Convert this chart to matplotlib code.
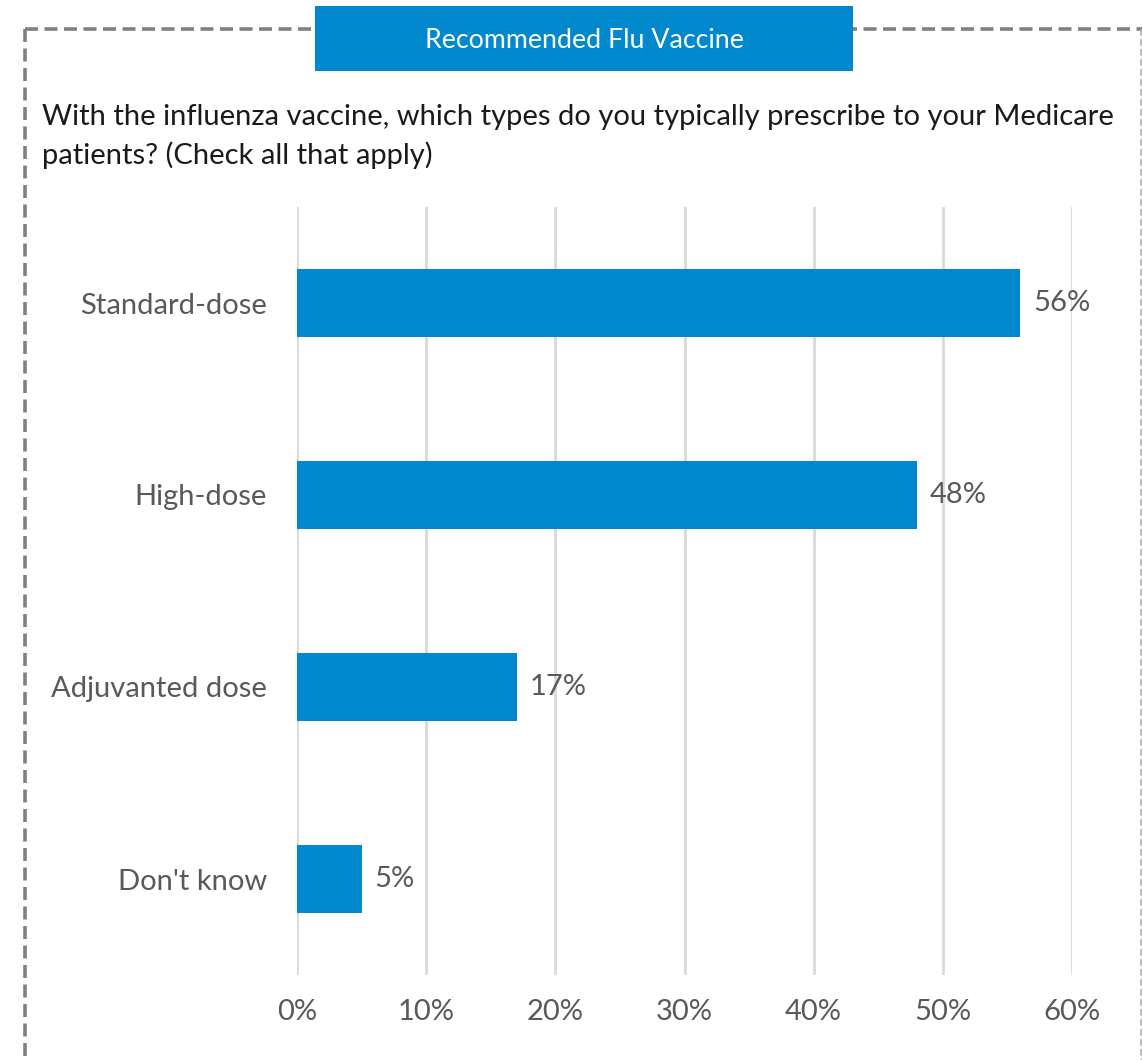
import matplotlib
matplotlib.use("Agg")
import matplotlib.pyplot as plt
from matplotlib.patches import Rectangle
from matplotlib.lines import Line2D

categories = ["Standard-dose", "High-dose", "Adjuvanted dose", "Don't know"]
values = [56, 48, 17, 5]
tick_values = [0, 10, 20, 30, 40, 50, 60]
tick_labels = ["0%", "10%", "20%", "30%", "40%", "50%", "60%"]

header = "Recommended Flu Vaccine"
question = ("With the influenza vaccine, which types do you typically prescribe to your Medicare\n"
            "patients? (Check all that apply)")

BLUE = "#0288CC"
GREY_TXT = "#595959"
FONT = ["Lato", "DejaVu Sans"]

W, H = 1143, 1060
fig = plt.figure(figsize=(W / 100, H / 100), dpi=100)
fig.patch.set_facecolor("white")

def fx(px):
    return px / W

def fy(py):
    return 1 - py / H

# dashed frame around the panel
dash = dict(color="#808080", linewidth=2.6, linestyle=(0, (3.6, 1.8)), transform=fig.transFigure)
fig.add_artist(Line2D([fx(25), fx(25)], [fy(29), fy(1062)], **dash))
fig.add_artist(Line2D([fx(25), fx(1142)], [fy(29), fy(29)], **dash))
fig.add_artist(Line2D([fx(1141), fx(1141)], [fy(29), fy(1062)], color="#B0B0B0",
                      linewidth=1.2, linestyle=(0, (4, 2)), transform=fig.transFigure))

# header banner
fig.add_artist(Rectangle((fx(315), fy(71)), fx(853) - fx(315), fy(6) - fy(71),
                         transform=fig.transFigure, facecolor=BLUE, edgecolor="none", zorder=3))
fig.text(fx(584), fy(40), header, color="white", fontsize=19.3, family=FONT,
         ha="center", va="center", zorder=4)

fig.text(fx(42), fy(104), question, color="#1a1a1a", fontsize=21, family=FONT,
         ha="left", va="top", linespacing=1.52)

ax = fig.add_axes([fx(297), fy(975), fx(1072) - fx(297), fy(207) - fy(975)])
ypos = list(range(len(categories)))
ax.barh(ypos, values, height=0.35, color=BLUE, zorder=3)
ax.set_xlim(0, 60)
ax.set_ylim(len(categories) - 0.5, -0.5)
ax.set_xticks(tick_values)
ax.set_xticklabels(tick_labels)
ax.set_yticks(ypos)
ax.set_yticklabels(categories)
ax.grid(axis="x", color="#D9D9D9", linewidth=2, zorder=0)
for s in ax.spines.values():
    s.set_visible(False)
ax.tick_params(axis="both", length=0, labelsize=21, labelcolor=GREY_TXT)
ax.tick_params(axis="x", pad=17)
ax.tick_params(axis="y", pad=21.5)
for lab in ax.get_xticklabels() + ax.get_yticklabels():
    lab.set_family(FONT)

for y, v in zip(ypos, values):
    ax.text(v + 1.0, y, f"{v}%", va="center", ha="left", fontsize=21,
            color=GREY_TXT, family=FONT)

fig.savefig("out.png", dpi=100, facecolor="white")
